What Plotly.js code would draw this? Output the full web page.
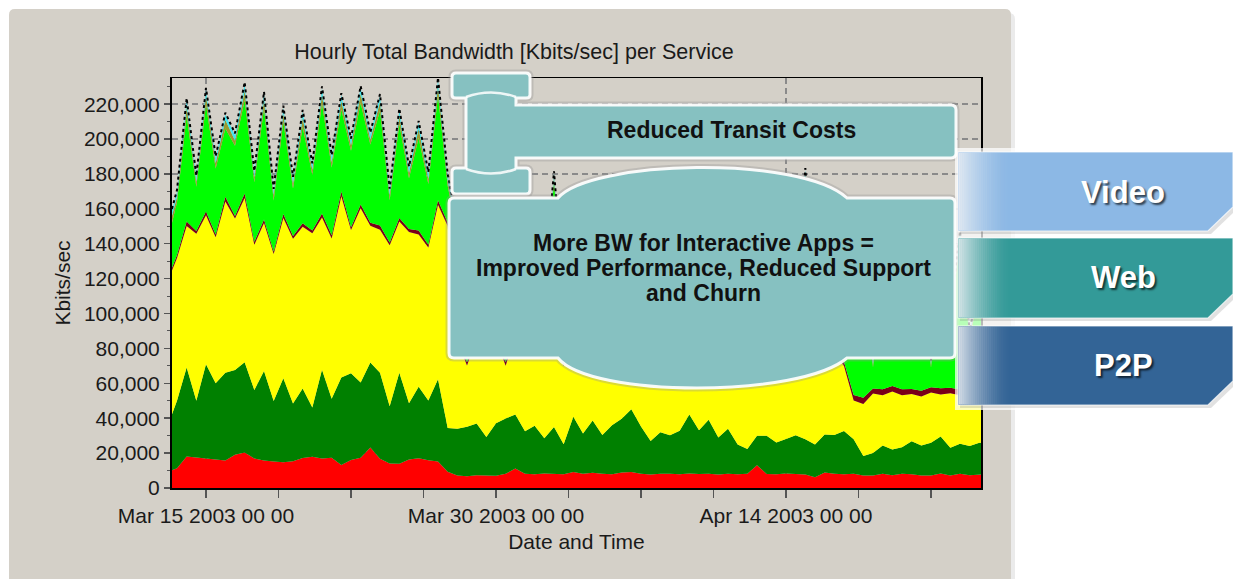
<!DOCTYPE html>
<html>
<head>
<meta charset="utf-8">
<script src="https://cdn.plot.ly/plotly-3.0.1.min.js"></script>
<style>
html,body{margin:0;padding:0;background:#ffffff;}
#chart{width:1233px;height:579px;}
</style>
</head>
<body>
<div id="chart"></div>
<script>
// ---------------- DATA (Kbits/sec, one sample every 12 hours from Mar 13 2003 00:00) ----------------
const sampleStart = '2003-03-13 00:00';
const sampleStepMs = 43200000; // 12 hours

const redSvc = [9200,11300,18100,17600,16800,16200,15700,19100,20300,16900,15800,15200,14800,15300,17200,17900,16900,17300,13200,16100,17400,23200,16800,14100,13900,16300,17100,15900,15200,9300,
7200,6800,7300,7100,7000,8100,11200,8200,7900,8300,8100,7900,9100,8200,8800,8100,7900,8900,9200,8100,7800,8200,8100,7900,8300,8000,8200,7800,8100,7900,8200,13100,8000,7900,8300,8100,7800,6100,8900,8200,7900,
8100,7200,7100,8200,7300,8100,7900,7200,7100,8300,7200,8100,7300,7900,8100];

const darkGreenSvc = [25800,38700,50900,32400,54200,43800,50300,48600,51800,39200,51300,34700,48100,33200,39800,28300,50900,33800,50200,49700,43100,48800,49300,32800,52100,32300,40900,34200,47200,25100,
26800,28300,29700,22200,30100,31800,30900,24300,27800,20200,26900,17200,31800,23100,29900,22300,28100,30800,35900,27200,19100,23800,22200,24900,33800,25100,30900,21200,25800,17100,14200,16800,21900,18200,19800,22100,20200,18900,21800,22200,24800,
19800,11200,12900,16100,14800,15200,18900,17100,18800,21200,15900,17200,16800,18100,17900];

const yellowSvc = [83100,81800,81200,95800,85300,83700,98200,86800,94100,83300,84800,84200,91800,94300,92700,99800,87200,91900,103800,82100,99800,78300,81900,92200,86800,98100,87300,87800,99900,115800,
50200,35100,48800,48100,47900,30200,46100,45800,50200,47900,52100,44800,47200,46900,47100,46800,49200,39100,43800,43200,56800,45100,55900,45200,46100,43800,46200,47100,49800,51200,60900,47100,53800,50200,54800,47100,56900,51200,52800,47100,37200,
22200,29800,34100,28900,33200,29800,27100,28200,28900,24100,31200,27800,31100,27200,28100];

const darkRedSvc = [1200,1800,2500,1500,2200,1600,2800,1400,2600,1800,2000,1500,2400,1700,2100,1600,2300,1900,2700,1500,2200,1800,2500,1600,2000,1700,2300,1500,2600,2000,
2100,1900,2200,2000,1800,2100,2300,1900,2000,2200,2100,1800,2000,2200,1900,2100,2000,1800,2200,2000,2100,1900,2300,2000,1800,2100,2000,2200,1900,2100,2000,1800,2200,2000,2100,1900,2000,2200,1900,2100,2300,
3200,3600,2900,3400,3100,3500,2800,3300,3000,3600,3100,3400,2900,3300,3200];

const greenSvc = [21800,30200,60800,25300,61200,37800,39100,40200,53800,34100,63900,29200,52800,27100,55200,31800,63100,38800,47200,43900,58200,44800,65900,24200,53800,29100,53200,34800,60100,21200,
58800,38200,62100,27900,60200,40800,62900,29100,61800,33200,86100,35800,62200,32900,60800,28200,63900,34100,64200,29800,61100,29200,61800,32100,63200,27800,60900,31200,59100,27200,57800,28100,60200,26900,59800,29100,90200,28200,57900,27800,62800,
42100,73800,12200,74100,31800,79200,35900,78100,11100,78800,38200,84900,27100,57200,30800];

const oliveSvc = [4800,3100,5200,2900,5100,3200,4900,3000,5300,2800,5000,3100,4800,2900,5200,3000,5100,3200,4900,3100,5300,2900,5000,3000,4800,3100,5200,2900,5400,3000,
2100,1800,2200,1900,2000,1800,2300,1900,2100,1800,2600,1900,2200,1800,2100,1900,2000,1800,2200,1900,2100,1800,2000,1900,2200,1800,2100,1900,2000,1800,2100,1900,2000,1800,2200,1900,2600,1800,2100,1900,2000,
2000,2200,1800,2100,1900,2200,1800,2100,1700,2200,1900,2300,1900,2100,1900];

const cyanSvc = [3200,2800,3500,2700,3400,2900,3100,3000,3600,2800,3300,2700,3200,2900,3400,2800,3500,2900,3200,3000,3400,2800,3300,2900,3100,2800,3300,3000,3600,2900,
2100,1900,2200,1800,2000,2100,2200,1900,2000,1800,2400,1900,2100,2000,2200,1800,2000,1900,2100,2000,2200,1900,2000,1800,2100,2000,2200,1900,2000,1800,2100,1900,2000,1800,2100,1900,2400,1800,2000,1900,2100,
2100,2300,1900,2200,2000,2300,1900,2200,1800,2300,2000,2400,1900,2200,2000];

const otherSvc = [900,1100,1200,800,1100,900,1000,1200,1100,800,1000,900,1200,1000,1100,900,1200,1000,1100,900,1000,1200,1100,800,1000,900,1100,1000,1200,900,
1000,900,1100,800,1000,1100,1000,900,1100,1000,1200,900,1000,1100,1000,900,1000,1100,1000,900,1000,1100,1000,900,1100,1000,1000,900,1100,1000,1000,900,1100,1000,1000,900,1200,1000,1000,900,1000,
900,1100,800,1000,900,1100,1000,1100,800,1000,900,1100,1000,1100,900];

const xTickVals = ['2003-03-15 00:00', '2003-03-30 00:00', '2003-04-14 00:00'];
const xTickText = ['Mar 15 2003 00 00', 'Mar 30 2003 00 00', 'Apr 14 2003 00 00'];

const chartTitle = 'Hourly Total Bandwidth [Kbits/sec] per Service';
const calloutTop = 'Reduced Transit Costs';
const calloutMain = ['More BW for Interactive Apps =', 'Improved Performance, Reduced Support', 'and Churn'];
const tabLabels = ['Video', 'Web', 'P2P'];
const tabColors = ['#8cb8e5', '#339a98', '#336496'];

// ---------------- HELPERS ----------------
const FONT = 'Liberation Sans, Arial, Helvetica, sans-serif';
const L = 172, R = 981, T = 78, B = 488;
const px = X => (X - L) / (R - L);
const py = Y => (B - Y) / (B - T);
function path(s) {
  const tok = s.trim().split(/\s+/);
  const out = []; let isX = true;
  for (const t of tok) {
    if (/^[A-Za-z]$/.test(t)) { out.push(t); isX = true; }
    else { const v = parseFloat(t); out.push((isX ? px(v) : py(v)).toFixed(5)); isX = !isX; }
  }
  return out.join(' ');
}
function rect(x0, y0, x1, y1, fill, opts) {
  return Object.assign({type:'rect', xref:'paper', yref:'paper', x0:px(x0), x1:px(x1), y0:py(y1), y1:py(y0),
    fillcolor:fill, line:{width:0}, layer:'above'}, opts || {});
}

function layer(name, y, color) {
  return {type:'scatter', mode:'lines', name, x0:sampleStart, dx:sampleStepMs, y,
    stackgroup:'bw', line:{width:0, color, shape:'linear'}, fillcolor:color, hoverinfo:'skip'};
}
const traces = [
  layer('red', redSvc, '#ff0000'),
  layer('darkgreen', darkGreenSvc, '#008000'),
  layer('yellow', yellowSvc, '#ffff00'),
  layer('darkred', darkRedSvc, '#7a0018'),
  layer('green', greenSvc, '#00ff00'),
  layer('olive', oliveSvc, '#9a9a30'),
  layer('cyan', cyanSvc, '#40e6f0'),
  Object.assign(layer('other', otherSvc, '#000000'), {fill:'none', line:{width:2, color:'#000000', dash:'dot'}})
];

// ---------------- SHAPES ----------------
const shapes = [];
// panel with shadow
shapes.push({type:'path', xref:'paper', yref:'paper', layer:'below', path:path('M 13 19 Q 13 13 19 13 L 1009 13 Q 1015 13 1015 19 L 1015 590 L 13 590 Z'), fillcolor:'rgba(0,0,0,0.08)', line:{width:0}});
shapes.push({type:'path', xref:'paper', yref:'paper', layer:'below', path:path('M 9 15 Q 9 9 15 9 L 1005 9 Q 1011 9 1011 15 L 1011 590 L 9 590 Z'), fillcolor:'#d4d0c8', line:{width:0}});

const teal = '#86c1c1';
const bracketPath = path('M 456 73 L 526 73 Q 530 73 530 77 L 530 95 Q 530 98 526 98 L 516 98 L 516 105 L 951 105 Q 956 105 956 110 L 956 153 Q 956 158 951 158 L 516 158 L 516 168 L 526 168 Q 530 168 530 172 L 530 190 Q 530 194 526 194 L 456 194 Q 452 194 452 190 L 452 172 Q 452 168 456 168 L 466 168 L 466 98 L 456 98 Q 452 98 452 95 L 452 77 Q 452 73 456 73 Z');
const bigPath = path('M 454 198 L 558 198 C 590 160 800 155 847 198 L 950 198 Q 955 198 955 203 L 955 353 Q 955 358 950 358 L 847 358 C 800 398 590 398 558 358 L 454 358 Q 449 358 449 353 L 449 203 Q 449 198 454 198 Z');
[bracketPath, bigPath].forEach(p => {
  shapes.push({type:'path', xref:'paper', yref:'paper', layer:'above', path:p, fillcolor:'rgba(0,0,0,0)', line:{width:7, color:'rgba(150,150,150,0.35)'}});
  shapes.push({type:'path', xref:'paper', yref:'paper', layer:'above', path:p, fillcolor:teal, line:{width:3, color:'rgba(255,255,255,0.92)'}});
});
shapes.push({type:'path', xref:'paper', yref:'paper', layer:'above', path:path('M 466 97 Q 491 88 516 97'), line:{width:2.5, color:'rgba(255,255,255,0.85)'}});
shapes.push({type:'path', xref:'paper', yref:'paper', layer:'above', path:path('M 466 169 Q 491 178 516 169'), line:{width:2.5, color:'rgba(255,255,255,0.85)'}});

// tabs: soft white glow behind, then the tab body, then a smooth left fade
shapes.push(rect(955, 148, 1233, 410, 'rgba(255,255,255,0.72)'));
const tabTops = [152, 238, 326];
const tabBottoms = [231, 318, 405];
tabLabels.forEach((lab, k) => {
  const t0 = tabTops[k], b0 = tabBottoms[k];
  shapes.push({type:'path', xref:'paper', yref:'paper', layer:'above',
    path:path(`M 960 ${b0+3} L 1211 ${b0+3} L 1236 ${b0-21} L 1236 ${t0+2} L 960 ${t0+2} Z`), fillcolor:'rgba(120,120,120,0.22)', line:{width:0}});
  shapes.push({type:'path', xref:'paper', yref:'paper', layer:'above',
    path:path(`M 958 ${t0} L 1233 ${t0} L 1233 ${b0-24} L 1208 ${b0} L 958 ${b0} Z`), fillcolor:tabColors[k], line:{width:1.2, color:'rgba(255,255,255,0.75)'}});
  const steps = 26;
  for (let s = 0; s < steps; s++) {
    const op = 0.86 * Math.pow(1 - s / steps, 1.7);
    shapes.push(rect(958.6 + s * 2, t0 + 0.6, 960.8 + s * 2, b0 - 0.6, `rgba(236,239,243,${op.toFixed(3)})`));
  }
});

// ---------------- ANNOTATIONS ----------------
const annotations = [];
annotations.push({xref:'paper', yref:'paper', x:px(731), y:py(130), text:calloutTop, showarrow:false, xanchor:'center', yanchor:'middle',
  font:{family:FONT, size:23, color:'#111111', weight:700}});
const mainYs = [243, 268, 293];
calloutMain.forEach((line, k) => annotations.push({xref:'paper', yref:'paper', x:px(703), y:py(mainYs[k]), text:line, showarrow:false,
  xanchor:'center', yanchor:'middle', font:{family:FONT, size:23, color:'#111111', weight:700}}));
const tabTextYs = [192, 277, 365];
tabLabels.forEach((lab, k) => annotations.push({xref:'paper', yref:'paper', x:px(1123), y:py(tabTextYs[k]), text:lab, showarrow:false,
  xanchor:'center', yanchor:'middle', font:{family:FONT, size:31, color:'#ffffff', weight:700, shadow:'2px 2px 2px rgba(0,0,0,0.65)'}}));

// ---------------- LAYOUT ----------------
const layout = {
  width:1233, height:579,
  margin:{l:L, r:1233-R, t:T, b:579-B, pad:0},
  paper_bgcolor:'#ffffff', plot_bgcolor:'rgba(0,0,0,0)',
  showlegend:false,
  font:{family:FONT, color:'#1a1a1a', size:21},
  title:{text:chartTitle, xref:'container', x:514/1233, xanchor:'center', yref:'container', y:1-51/579, yanchor:'middle',
    font:{family:FONT, size:21.5, color:'#1a1a1a'}},
  xaxis:{type:'date', range:['2003-03-13 05:48','2003-04-24 02:04'], tickmode:'array', tickvals:xTickVals, ticktext:xTickText,
    ticks:'outside', ticklen:8, tickwidth:1.5, tickcolor:'#555555', showline:true, linecolor:'#000000', linewidth:1.5, mirror:true,
    showgrid:true, gridcolor:'#8a8a8a', gridwidth:1.5, griddash:'6px,4px', zeroline:false, tickfont:{size:21, color:'#1a1a1a'},
    minor:{ticks:'outside', ticklen:8, tickwidth:1.5, tickcolor:'#555555', tick0:'2003-03-15', dtick:324000000, showgrid:false},
    title:{text:'Date and Time', standoff:8, font:{size:21, color:'#1a1a1a'}}, automargin:false, fixedrange:true},
  yaxis:{range:[0,235000], tickmode:'linear', tick0:0, dtick:20000, tickformat:',d',
    ticks:'outside', ticklen:6, tickwidth:1.5, tickcolor:'#555555', showline:true, linecolor:'#000000', linewidth:2, mirror:true,
    showgrid:true, gridcolor:'#8a8a8a', gridwidth:1.5, griddash:'6px,4px', zeroline:false, tickfont:{size:21, color:'#1a1a1a'},
    minor:{ticks:'outside', ticklen:3, tickwidth:1, tickcolor:'#555555', dtick:10000, showgrid:false},
    title:{text:'Kbits/sec', standoff:8, font:{size:21, color:'#1a1a1a'}}, automargin:false, fixedrange:true},
  shapes, annotations
};

Plotly.newPlot('chart', traces, layout, {displayModeBar:false, staticPlot:true});
</script>
</body>
</html>
